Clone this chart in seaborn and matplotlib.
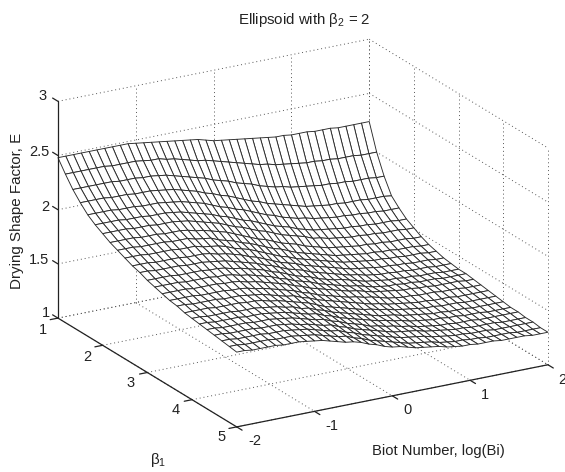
import numpy as np
import pandas as pd
import matplotlib
matplotlib.use("Agg")
import matplotlib.pyplot as plt
import seaborn as sns

# values, one row per beta1 line, one column per log(Bi) line
log_bi = [round(-2 + 0.1 * i, 1) for i in range(41)]
beta1 = [1 + i / 6 for i in range(25)]
shape_factor = [
    [2.48,2.48,2.48,2.48,2.48,2.48,2.48,2.48,2.48,2.48, 2.47,2.46,2.45,2.44,2.43,2.42,2.41,2.40,2.39,2.37, 2.35,2.34,2.33,2.32,2.31,2.30,2.29,2.28,2.27,2.27, 2.26,2.26,2.26,2.25,2.25,2.25,2.24,2.24,2.24,2.24,2.24],
    [2.37,2.37,2.37,2.37,2.37,2.37,2.36,2.36,2.36,2.36, 2.35,2.34,2.34,2.32,2.31,2.29,2.27,2.25,2.24,2.22, 2.20,2.18,2.16,2.14,2.12,2.10,2.09,2.07,2.06,2.05, 2.04,2.03,2.03,2.02,2.02,2.01,2.01,2.01,2.00,2.00,2.00],
    [2.27,2.27,2.27,2.27,2.27,2.27,2.26,2.26,2.26,2.25, 2.25,2.24,2.23,2.21,2.19,2.17,2.15,2.13,2.10,2.08, 2.06,2.03,2.01,1.99,1.96,1.94,1.92,1.91,1.89,1.88, 1.87,1.86,1.85,1.85,1.84,1.84,1.83,1.83,1.83,1.82,1.82],
    [2.19,2.19,2.19,2.19,2.18,2.18,2.18,2.17,2.17,2.17, 2.16,2.15,2.14,2.12,2.10,2.08,2.05,2.03,2.00,1.98, 1.95,1.92,1.89,1.87,1.84,1.82,1.80,1.78,1.76,1.74, 1.73,1.72,1.71,1.71,1.70,1.70,1.70,1.69,1.69,1.69,1.68],
    [2.12,2.12,2.12,2.12,2.11,2.11,2.11,2.10,2.10,2.10, 2.09,2.08,2.07,2.05,2.03,2.01,1.98,1.95,1.93,1.90, 1.88,1.85,1.82,1.79,1.77,1.74,1.72,1.70,1.69,1.67, 1.66,1.65,1.64,1.64,1.63,1.63,1.62,1.62,1.61,1.61,1.61],
    [2.07,2.07,2.07,2.07,2.06,2.06,2.06,2.05,2.05,2.05, 2.04,2.03,2.01,1.99,1.97,1.95,1.92,1.90,1.87,1.84, 1.82,1.79,1.76,1.73,1.71,1.69,1.66,1.64,1.62,1.61, 1.60,1.59,1.58,1.58,1.57,1.57,1.56,1.56,1.56,1.55,1.55],
    [2.03,2.03,2.03,2.03,2.02,2.02,2.02,2.01,2.01,2.01, 2.00,1.99,1.97,1.95,1.93,1.91,1.88,1.85,1.83,1.80, 1.77,1.75,1.72,1.69,1.67,1.65,1.63,1.60,1.59,1.57, 1.56,1.55,1.54,1.54,1.53,1.53,1.52,1.52,1.52,1.51,1.51],
    [1.99,1.99,1.99,1.99,1.98,1.98,1.98,1.97,1.97,1.97, 1.96,1.94,1.93,1.91,1.89,1.87,1.84,1.81,1.78,1.75, 1.73,1.70,1.67,1.65,1.63,1.60,1.58,1.56,1.54,1.53, 1.52,1.51,1.50,1.50,1.49,1.49,1.48,1.48,1.48,1.47,1.47],
    [1.96,1.96,1.96,1.95,1.95,1.95,1.95,1.94,1.94,1.94, 1.92,1.91,1.90,1.87,1.85,1.83,1.80,1.78,1.75,1.72, 1.69,1.67,1.64,1.61,1.59,1.57,1.55,1.53,1.51,1.50, 1.49,1.48,1.47,1.47,1.46,1.46,1.45,1.45,1.45,1.44,1.44],
    [1.93,1.93,1.93,1.92,1.92,1.92,1.92,1.91,1.91,1.91, 1.89,1.88,1.87,1.85,1.82,1.80,1.78,1.75,1.72,1.69, 1.66,1.64,1.61,1.59,1.57,1.55,1.53,1.51,1.49,1.48, 1.47,1.46,1.45,1.45,1.44,1.44,1.43,1.43,1.43,1.42,1.42],
    [1.90,1.90,1.90,1.89,1.89,1.89,1.89,1.88,1.88,1.88, 1.87,1.85,1.84,1.82,1.80,1.77,1.75,1.72,1.69,1.66, 1.64,1.62,1.59,1.57,1.55,1.53,1.51,1.49,1.47,1.46, 1.45,1.44,1.43,1.43,1.42,1.42,1.41,1.41,1.41,1.40,1.40],
    [1.88,1.88,1.87,1.87,1.87,1.87,1.86,1.86,1.86,1.85, 1.84,1.83,1.81,1.79,1.77,1.75,1.72,1.70,1.67,1.64, 1.62,1.60,1.57,1.55,1.53,1.51,1.49,1.47,1.46,1.44, 1.43,1.42,1.42,1.41,1.41,1.40,1.40,1.40,1.39,1.39,1.39],
    [1.85,1.85,1.85,1.85,1.84,1.84,1.84,1.84,1.83,1.83, 1.82,1.80,1.79,1.77,1.75,1.73,1.70,1.68,1.65,1.62, 1.60,1.58,1.55,1.53,1.51,1.50,1.48,1.46,1.44,1.43, 1.42,1.41,1.41,1.40,1.40,1.39,1.39,1.39,1.38,1.38,1.38],
    [1.83,1.83,1.83,1.83,1.82,1.82,1.82,1.82,1.81,1.81, 1.80,1.78,1.77,1.75,1.73,1.71,1.68,1.66,1.63,1.61, 1.59,1.56,1.54,1.52,1.50,1.48,1.47,1.45,1.43,1.42, 1.41,1.41,1.40,1.40,1.39,1.39,1.39,1.38,1.38,1.38,1.38],
    [1.81,1.81,1.81,1.81,1.80,1.80,1.80,1.80,1.79,1.79, 1.78,1.76,1.75,1.73,1.71,1.69,1.67,1.64,1.62,1.59, 1.57,1.55,1.53,1.51,1.49,1.48,1.46,1.44,1.43,1.42, 1.41,1.40,1.40,1.39,1.39,1.38,1.38,1.38,1.38,1.37,1.37],
    [1.79,1.79,1.79,1.79,1.78,1.78,1.78,1.78,1.77,1.77, 1.76,1.74,1.73,1.71,1.69,1.67,1.65,1.62,1.60,1.57, 1.55,1.53,1.51,1.49,1.48,1.46,1.45,1.43,1.41,1.40, 1.39,1.39,1.38,1.38,1.38,1.37,1.37,1.37,1.36,1.36,1.36],
    [1.78,1.78,1.77,1.77,1.77,1.77,1.76,1.76,1.76,1.75, 1.74,1.73,1.71,1.69,1.67,1.66,1.63,1.61,1.58,1.56, 1.54,1.52,1.50,1.48,1.46,1.44,1.43,1.41,1.40,1.39, 1.38,1.37,1.37,1.36,1.36,1.36,1.35,1.35,1.35,1.35,1.35],
    [1.76,1.76,1.76,1.76,1.75,1.75,1.75,1.75,1.74,1.74, 1.73,1.71,1.70,1.68,1.66,1.64,1.62,1.59,1.56,1.54, 1.52,1.50,1.48,1.46,1.45,1.43,1.42,1.40,1.39,1.38, 1.37,1.36,1.36,1.35,1.35,1.35,1.34,1.34,1.34,1.34,1.34],
    [1.75,1.75,1.74,1.74,1.74,1.74,1.73,1.73,1.73,1.72, 1.71,1.70,1.68,1.67,1.64,1.63,1.60,1.58,1.55,1.53, 1.51,1.49,1.47,1.45,1.43,1.42,1.41,1.39,1.38,1.37, 1.36,1.35,1.35,1.34,1.34,1.34,1.33,1.33,1.33,1.33,1.33],
    [1.74,1.74,1.73,1.73,1.73,1.73,1.72,1.72,1.72,1.71, 1.70,1.69,1.67,1.65,1.63,1.62,1.59,1.57,1.54,1.52, 1.50,1.48,1.46,1.44,1.43,1.41,1.40,1.38,1.37,1.36, 1.35,1.35,1.34,1.34,1.33,1.33,1.33,1.32,1.32,1.32,1.32],
    [1.73,1.73,1.72,1.72,1.72,1.72,1.71,1.71,1.71,1.70, 1.69,1.68,1.66,1.64,1.62,1.61,1.58,1.56,1.53,1.51, 1.49,1.46,1.45,1.43,1.42,1.40,1.39,1.37,1.36,1.35, 1.34,1.34,1.33,1.33,1.33,1.32,1.32,1.32,1.32,1.32,1.32],
    [1.72,1.72,1.71,1.71,1.71,1.71,1.70,1.70,1.70,1.69, 1.68,1.66,1.65,1.63,1.61,1.60,1.57,1.55,1.52,1.50, 1.48,1.46,1.44,1.42,1.41,1.40,1.39,1.37,1.36,1.35, 1.34,1.33,1.33,1.32,1.32,1.32,1.32,1.31,1.31,1.31,1.31],
    [1.71,1.71,1.70,1.70,1.70,1.70,1.69,1.69,1.69,1.68, 1.67,1.66,1.64,1.62,1.60,1.59,1.56,1.54,1.51,1.49, 1.47,1.45,1.43,1.41,1.40,1.39,1.38,1.36,1.35,1.34, 1.33,1.33,1.32,1.32,1.32,1.31,1.31,1.31,1.31,1.31,1.31],
    [1.70,1.70,1.69,1.69,1.69,1.69,1.68,1.68,1.68,1.67, 1.66,1.65,1.63,1.61,1.59,1.58,1.55,1.53,1.50,1.48, 1.46,1.44,1.42,1.40,1.39,1.38,1.37,1.35,1.34,1.33, 1.33,1.32,1.32,1.31,1.31,1.31,1.31,1.30,1.30,1.30,1.30],
    [1.69,1.69,1.68,1.68,1.68,1.68,1.67,1.67,1.67,1.66, 1.65,1.64,1.62,1.60,1.58,1.57,1.55,1.52,1.50,1.47, 1.45,1.44,1.42,1.40,1.39,1.38,1.37,1.35,1.34,1.33, 1.33,1.32,1.32,1.32,1.31,1.31,1.31,1.31,1.30,1.30,1.30],
]
beta_ticks = [1, 2, 3, 4, 5]
bi_ticks = [-2, -1, 0, 1, 2]
z_ticks = [1, 1.5, 2, 2.5, 3]
z_tick_labels = ["1", "1.5", "2", "2.5", "3"]

sns.set_theme(style="white")
plt.rcParams["font.family"] = ["Liberation Sans", "DejaVu Sans"]
plt.rcParams["mathtext.default"] = "regular"

W, H = 565, 472
fig = plt.figure(figsize=(W / 100, H / 100), dpi=100, facecolor="white")
ax = fig.add_axes([-56.5 / W, -120.5 / H, 700 / W, 700 / H], projection="3d", computed_zorder=False)
ax.set_proj_type("ortho")
ax.view_init(elev=20.4, azim=-29.8)
ax.set_box_aspect((360, 359, 231.5), zoom=0.774)
ax.set_xlim(1, 5)
ax.set_ylim(-2, 2)
ax.set_zlim(1, 3)
ax.set_axis_off()

table = pd.DataFrame(shape_factor, index=beta1, columns=log_bi)
X, Y = np.meshgrid(table.index.values, table.columns.values, indexing="ij")

# dotted grid on the floor and the two back walls
dots = dict(color="#555555", lw=0.7, ls=(0, (1, 3)), zorder=1)
for b in beta_ticks:
    ax.plot([b, b], [-2, 2], [1, 1], **dots)
    ax.plot([b, b], [2, 2], [1, 3], **dots)
for b in bi_ticks:
    ax.plot([1, 5], [b, b], [1, 1], **dots)
    ax.plot([1, 1], [b, b], [1, 3], **dots)
for z in z_ticks:
    ax.plot([1, 1], [-2, 2], [z, z], **dots)
    ax.plot([1, 5], [2, 2], [z, z], **dots)

ax.plot_surface(X, Y, table.values, rstride=1, cstride=1, color="white", shade=False,
                edgecolor="#2a2a2a", linewidth=0.65, zorder=2)

# solid axes and tick marks
solid = dict(color="#222222", lw=0.9, zorder=3)
ax.plot([1, 5], [-2, -2], [1, 1], **solid)
ax.plot([5, 5], [-2, 2], [1, 1], **solid)
ax.plot([1, 1], [-2, -2], [1, 3], **solid)
for b in beta_ticks:
    ax.plot([b, b], [-2, -2.1], [1, 1], **solid)
for b in bi_ticks:
    ax.plot([5, 5.12], [b, b], [1, 1], **solid)
for z in z_ticks:
    ax.plot([1, 0.88], [-2, -2], [z, z], **solid)


def label(px, py, s, size=10.5, **kw):
    fig.text(px / W, 1 - py / H, s, ha="center", va="center", fontsize=size, color="#222222", **kw)


for txt, py, px in zip(z_tick_labels, [313, 260, 207, 152, 96], [46, 39, 45, 39, 43]):
    label(px, py, txt)
for b, px, py in zip(beta_ticks, [43, 87, 131, 176, 222], [330, 357, 383, 410, 437]):
    label(px, py, str(b))
for b, px, py in zip(bi_ticks, [255, 332, 407, 485, 562], [441, 426, 410, 395, 380]):
    label(px, py, str(b))

label(304, 20, "Ellipsoid with β$_2$ = 2", size=10.8)
label(17, 211, "Drying Shape Factor, E", size=10.9, rotation=90)
label(438, 451, "Biot Number, log(Bi)", size=10.6)
label(158, 460, "β$_1$", size=11)

fig.savefig("out.png", dpi=100)
